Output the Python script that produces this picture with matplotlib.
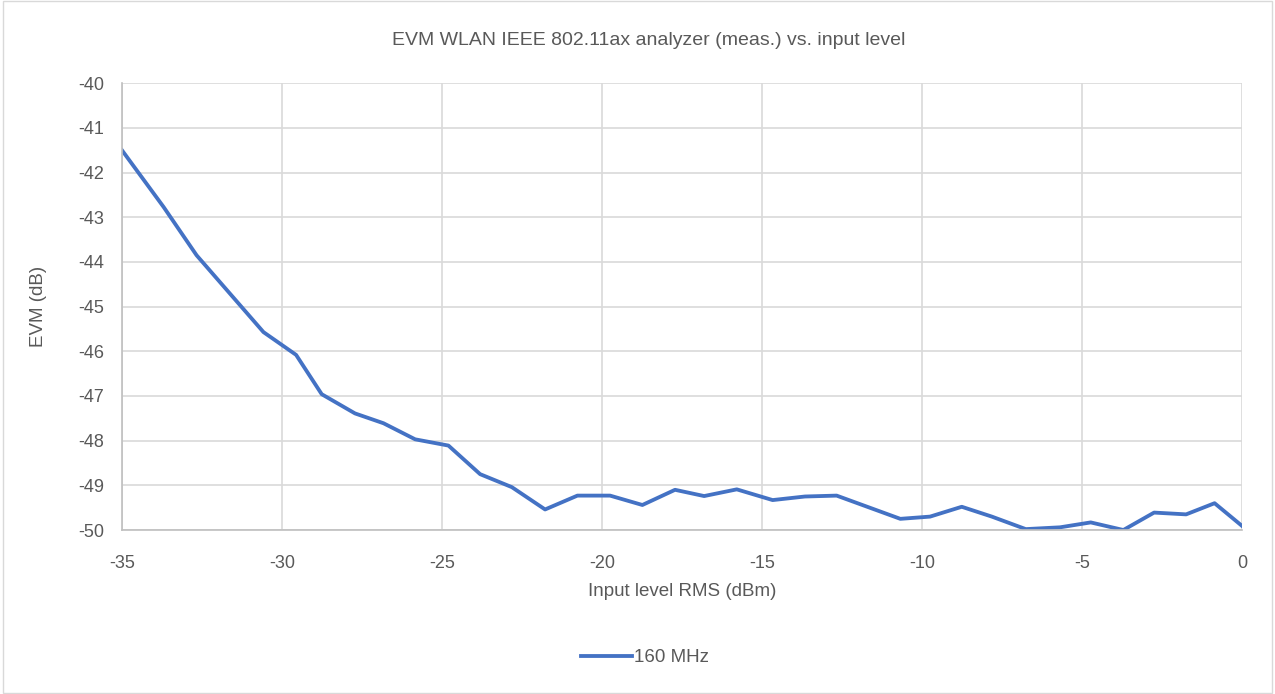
import matplotlib.pyplot as plt
from matplotlib.patches import Rectangle

input_level = [-35.0, -33.7, -32.67, -30.58, -29.56, -28.76, -27.72, -26.83, -25.84,
               -24.8, -23.81, -22.82, -21.78, -20.77, -19.75, -18.74, -17.72, -16.81,
               -15.79, -14.67, -13.66, -12.67, -10.68, -9.75, -8.76, -7.82, -6.76,
               -5.69, -4.73, -3.71, -2.75, -1.75, -0.86, 0.0]
evm_160 = [-41.5, -42.77, -43.85, -45.57, -46.08, -46.96, -47.39, -47.61, -47.97,
           -48.11, -48.75, -49.04, -49.54, -49.23, -49.23, -49.44, -49.1, -49.24,
           -49.09, -49.33, -49.25, -49.23, -49.75, -49.70, -49.48, -49.70, -49.98,
           -49.94, -49.83, -50.0, -49.61, -49.65, -49.40, -49.91]

txt = '#595959'
plt.rcParams['font.family'] = ['Liberation Sans', 'DejaVu Sans']
plt.rcParams['axes.unicode_minus'] = False

fig = plt.figure(figsize=(12.75, 6.94), dpi=100)
ax = fig.add_axes([0.0957, 0.2363, 0.8785, 0.6437])

ax.plot(input_level, evm_160, color='#4472C4', lw=2.75, label='160 MHz',
        solid_joinstyle='round')

ax.set_xlim(-35, 0)
ax.set_ylim(-50, -40)
ax.set_xticks(range(-35, 1, 5))
ax.set_yticks(range(-50, -39, 1))
ax.grid(True, color='#D9D9D9', lw=1.2)
ax.set_axisbelow(True)
for s in ['top', 'right']:
    ax.spines[s].set_visible(False)
for s in ['left', 'bottom']:
    ax.spines[s].set_color('#BFBFBF')
    ax.spines[s].set_linewidth(1.2)
ax.tick_params(length=0, labelsize=13, colors=txt)
ax.tick_params(axis='x', pad=18)
ax.tick_params(axis='y', pad=13)

fig.text(0.509, 0.942, 'EVM WLAN IEEE 802.11ax analyzer (meas.) vs. input level',
         fontsize=14, color=txt, ha='center', va='center')
ax.set_xlabel('Input level RMS (dBm)', fontsize=13.5, color=txt, labelpad=8)
ax.set_ylabel('EVM (dB)', fontsize=13.5, color=txt, labelpad=22)

fig.legend(loc='center', bbox_to_anchor=(0.506, 0.052), frameon=False,
           fontsize=13.5, labelcolor=txt, handlelength=2.7, handletextpad=0.1)

fig.patches.append(Rectangle((0.002, 0.002), 0.996, 0.996, transform=fig.transFigure,
                             fill=False, edgecolor='#D9D9D9', lw=1))

fig.savefig('out.png', dpi=100)
